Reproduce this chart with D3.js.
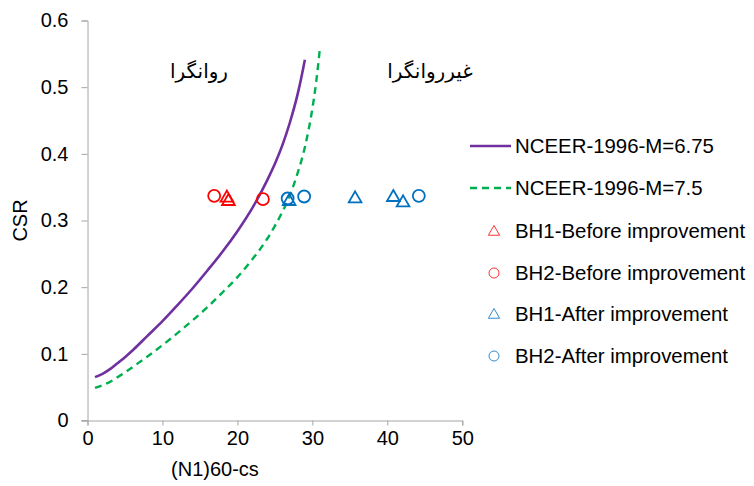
<!DOCTYPE html>
<html>
<head>
<meta charset="utf-8">
<script src="https://cdn.jsdelivr.net/npm/d3@7"></script>
<style>
  body { margin: 0; background: #fff; }
  svg text { font-family: "Liberation Sans", Arial, sans-serif; fill: #000; }
</style>
</head>
<body>
<script>
// curve data
const m675X = [1, 2, 3, 4, 5, 6, 8, 10, 12, 14, 16, 18, 20, 22, 24, 25, 26, 27, 28, 28.5, 29];
const m675Y = [0.065, 0.070, 0.077, 0.086, 0.095, 0.105, 0.127, 0.149, 0.173, 0.198, 0.225, 0.253, 0.284, 0.319, 0.361, 0.385, 0.413, 0.447, 0.488, 0.513, 0.541];
const m75X = [1, 2, 3, 4, 5, 6, 8, 10, 12, 14, 16, 18, 20, 22, 24, 25, 26, 27, 28, 29, 30, 30.5, 31];
const m75Y = [0.049, 0.053, 0.058, 0.065, 0.072, 0.080, 0.096, 0.113, 0.131, 0.150, 0.170, 0.192, 0.215, 0.242, 0.273, 0.292, 0.313, 0.338, 0.370, 0.410, 0.468, 0.507, 0.558];

// borehole points
const bh1BeforeX = [18.6, 18.8];
const bh1BeforeY = [0.336, 0.331];
const bh2BeforeX = [16.9, 23.4];
const bh2BeforeY = [0.337, 0.332];
const bh1AfterX = [26.9, 35.7, 40.8, 42.1];
const bh1AfterY = [0.331, 0.335, 0.337, 0.329];
const bh2AfterX = [26.7, 28.9, 44.2];
const bh2AfterY = [0.333, 0.336, 0.337];

const xTicks = [0, 10, 20, 30, 40, 50];
const yTicks = [0, 0.1, 0.2, 0.3, 0.4, 0.5, 0.6];

const W = 754, H = 486;
const FS = 20;
const svg = d3.select("body").append("svg").attr("width", W).attr("height", H);

const x = d3.scaleLinear().domain([0, 50]).range([87.5, 462.3]);
const y = d3.scaleLinear().domain([0, 0.6]).range([420.5, 20.5]);

// axes
const xAxis = svg.append("g").attr("transform", "translate(0," + y(0) + ")")
  .call(d3.axisBottom(x).tickValues(xTicks).tickSize(5).tickPadding(5).tickFormat(d3.format("d")));
const yAxis = svg.append("g").attr("transform", "translate(" + x(0) + ",0)")
  .call(d3.axisLeft(y).tickValues(yTicks).tickSize(6).tickPadding(13).tickFormat(d => d === 0 ? "0" : d3.format(".1f")(d)));
[xAxis, yAxis].forEach(g => {
  g.attr("font-size", FS).attr("font-family", null);
  g.select(".domain").attr("stroke", "#a6a6a6");
  g.selectAll(".tick line").attr("stroke", "#a6a6a6");
  g.selectAll("text").attr("fill", "#000");
});
// x axis extends slightly left of the y axis
svg.append("line").attr("x1", x(0) - 6).attr("x2", x(0)).attr("y1", y(0)).attr("y2", y(0)).attr("stroke", "#a6a6a6");

// axis titles
svg.append("text").attr("x", x(17)).attr("y", 476).attr("text-anchor", "middle")
  .attr("font-size", FS).text("(N1)60-cs");
svg.append("text").attr("transform", "translate(27," + y(0.3) + ") rotate(-90)")
  .attr("text-anchor", "middle").attr("font-size", FS).text("CSR");

// curves
const line = d3.line().x(d => x(d[0])).y(d => y(d[1])).curve(d3.curveMonotoneX);
svg.append("path").datum(d3.zip(m675X, m675Y)).attr("d", line)
  .attr("fill", "none").attr("stroke", "#7030A0").attr("stroke-width", 2.6);
svg.append("path").datum(d3.zip(m75X, m75Y)).attr("d", line)
  .attr("fill", "none").attr("stroke", "#00B050").attr("stroke-width", 2.4)
  .attr("stroke-dasharray", "7,5");

// markers
const tri = d3.symbol().type(d3.symbolTriangle).size(70);
function triangles(xs, ys, color) {
  svg.append("g").selectAll("path").data(d3.zip(xs, ys)).join("path")
    .attr("d", tri)
    .attr("transform", d => "translate(" + x(d[0]) + "," + (y(d[1]) + 1.5) + ")")
    .attr("fill", "none").attr("stroke", color).attr("stroke-width", 1.8);
}
function circles(xs, ys, color) {
  svg.append("g").selectAll("circle").data(d3.zip(xs, ys)).join("circle")
    .attr("cx", d => x(d[0])).attr("cy", d => y(d[1])).attr("r", 6)
    .attr("fill", "none").attr("stroke", color).attr("stroke-width", 1.8);
}
circles(bh2BeforeX, bh2BeforeY, "#FF0000");
triangles(bh1BeforeX, bh1BeforeY, "#FF0000");
triangles(bh1AfterX, bh1AfterY, "#0070C0");
circles(bh2AfterX, bh2AfterY, "#0070C0");

// Persian region labels
svg.append("text").attr("x", 199).attr("y", 78).attr("text-anchor", "middle")
  .attr("font-size", 20).attr("direction", "rtl").style("font-family", "'DejaVu Sans', serif").text("روانگرا");
svg.append("text").attr("x", 430).attr("y", 78).attr("text-anchor", "middle")
  .attr("font-size", 20).attr("direction", "rtl").style("font-family", "'DejaVu Sans', serif").text("غيرروانگرا");

// legend
const legendLabels = ["NCEER-1996-M=6.75", "NCEER-1996-M=7.5", "BH1-Before improvement",
  "BH2-Before improvement", "BH1-After improvement", "BH2-After improvement"];
const legendY = [146, 188, 231, 273, 314, 356];
const lg = svg.append("g");
legendLabels.forEach((lab, i) => {
  const ly = legendY[i];
  if (i === 0) {
    lg.append("line").attr("x1", 470).attr("x2", 511).attr("y1", ly).attr("y2", ly)
      .attr("stroke", "#7030A0").attr("stroke-width", 2.6);
  } else if (i === 1) {
    lg.append("line").attr("x1", 470).attr("x2", 511).attr("y1", ly).attr("y2", ly)
      .attr("stroke", "#00B050").attr("stroke-width", 2.4).attr("stroke-dasharray", "7,5");
  } else {
    const color = i < 4 ? "#FF0000" : "#0070C0";
    if (i % 2 === 0) {
      lg.append("path").attr("d", d3.symbol().type(d3.symbolTriangle).size(55)())
        .attr("transform", "translate(494," + (ly + 1) + ")")
        .attr("fill", "none").attr("stroke", color).attr("stroke-width", 1).attr("opacity", 0.8);
    } else {
      lg.append("circle").attr("cx", 494).attr("cy", ly).attr("r", 5)
        .attr("fill", "none").attr("stroke", color).attr("stroke-width", 1).attr("opacity", 0.8);
    }
  }
  lg.append("text").attr("x", 515).attr("y", ly).attr("dy", "0.35em")
    .attr("font-size", 20.4).text(lab);
});
</script>
</body>
</html>
